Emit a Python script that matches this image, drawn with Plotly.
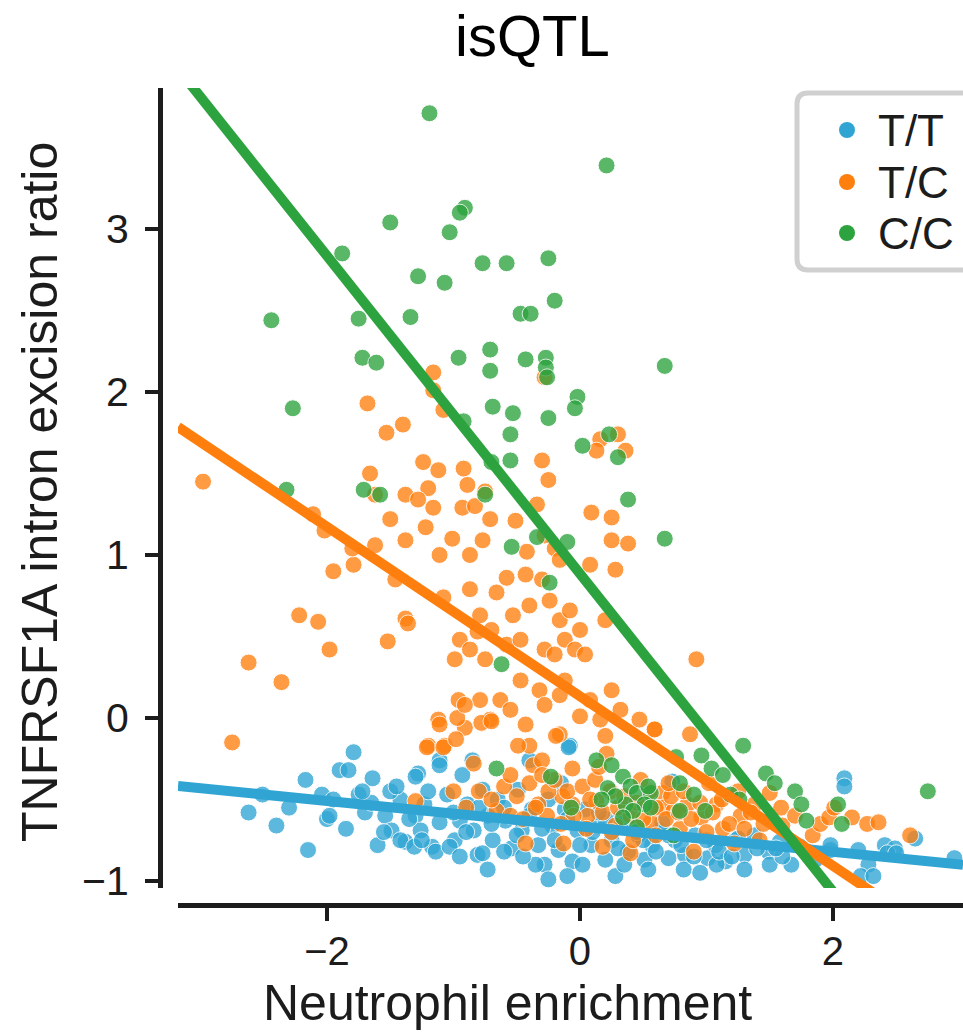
import numpy as np
import plotly.graph_objects as go

# ---- data -------------------------------------------------------------
genotypes = ["T/T", "T/C", "C/C"]
line_colors = ["#30a5d4", "#ff7f0e", "#2ca33e"]

# T/T carriers
tt_x = [-2.51, -2.15, -2.17, -2.04, -1.90, -1.83, -1.79, -1.75, -1.70, -1.64, -1.60, -1.54,
        -1.49, -1.42, -1.38, -1.30, -1.28, -1.26, -1.23, -1.17, -1.11, -1.11, -1.05, -0.99,
        -0.95, -0.93, -0.89, -0.84, -0.81, -0.77, -0.73, -0.69, -0.65, -0.59, -0.54, -0.49,
        -0.46, -0.40, -0.38, -0.33, -0.28, -0.25, -0.22, -0.17, -0.12, -0.08, -0.06, -0.02,
        0.04, 0.09, 0.14, 0.20, 0.25, 0.32, 0.38, 0.46, 0.51, 0.57, 0.63, 0.70, 0.75, 0.83,
        0.91, 1.01, 1.07, 1.15, 1.23, 1.30, 1.38, 1.49, 1.58, 1.74, 1.86, 1.98, 2.09, 2.20,
        2.28, 2.41, 2.49, 2.96, 0.73, -0.09, -0.85, -1.11, -1.30, 2.09, 1.98, 2.43, 2.50,
        2.22, 2.32, -0.25, -0.10, 0.28, -0.73, -1.42, -1.31, -1.14, -1.03, -0.77, -0.60,
        -0.35, 0.02, 0.54, 0.82, 1.08, 1.30, 1.50, 1.67, -2.30, -2.00, -1.95, -1.85, -1.65,
        -1.50, -1.35, -1.20, -1.00, -0.90, -0.80, -0.70, -0.60, -0.50, -0.40, -0.30, -0.20,
        -0.10, 0.00, 0.10, 0.20, 0.30, 0.40, 0.50, 0.60, 0.70, 0.80, 0.90, 1.00, 1.10, 1.20,
        1.40, 1.60, 1.80, -1.55, -1.25, -0.95, -0.45, 0.35, 0.95, -2.62, -2.40, -1.98, -1.72,
        -1.45, -0.15, 0.15, 0.45, 0.65, 1.25, 1.55, 2.65]
tt_y = [-0.47, -0.81, -0.38, -0.47, -0.32, -0.32, -0.21, -0.47, -0.58, -0.37, -0.78, -0.60,
        -0.69, -0.50, -0.76, -0.60, -0.34, -0.69, -0.53, -0.79, -0.26, -0.64, -0.47, -0.75,
        -0.63, -0.35, -0.53, -0.69, -0.84, -0.44, -0.60, -0.75, -0.50, -0.63, -0.80, -0.44,
        -0.69, -0.26, -0.56, -0.78, -0.90, -0.50, -0.66, -0.81, -0.56, -0.17, -0.88, -0.69,
        -0.56, -0.78, -0.66, -0.87, -0.75, -0.61, -0.82, -0.72, -0.87, -0.78, -0.69, -0.86,
        -0.75, -0.84, -0.72, -0.86, -0.78, -0.88, -0.75, -0.84, -0.72, -0.82, -0.76, -0.79,
        -0.87, -0.81, -0.37, -0.81, -0.90, -0.78, -0.80, -0.86, -0.39, -0.18, -0.26, -0.29,
        -0.36, -0.42, -0.78, -0.83, -0.83, -0.97, -0.97, -0.99, -0.97, -0.97, -0.93, -0.75,
        -0.79, -0.82, -0.79, -0.83, -0.82, -0.90, -0.90, -0.93, -0.93, -0.90, -0.93, -0.90,
        -0.90, -0.55, -0.62, -0.50, -0.68, -0.52, -0.45, -0.62, -0.45, -0.58, -0.70, -0.55,
        -0.65, -0.55, -0.72, -0.60, -0.68, -0.75, -0.62, -0.78, -0.70, -0.62, -0.80, -0.68,
        -0.75, -0.82, -0.72, -0.78, -0.85, -0.75, -0.82, -0.85, -0.80, -0.85, -0.82, -0.70,
        -0.75, -0.85, -0.85, -0.90, -0.95, -0.58, -0.66, -0.60, -0.45, -0.42, -0.40, -0.58,
        -0.70, -0.64, -0.74, -0.80, -0.74]

# T/C carriers
tc_x = [-2.98, -2.62, -2.36, -2.75, -2.22, -2.07, -1.98, -2.11, -2.02, -1.95, -1.79, -1.80,
        -1.68, -1.62, -1.52, -1.53, -1.40, -1.66, -1.62, -1.38, -1.50, -1.38, -1.46, -1.38,
        -1.36, -1.16, -1.16, -1.24, -1.20, -1.16, -1.28, -1.22, -1.12, -1.08, -1.11, -1.01,
        -1.08, -0.92, -0.93, -0.89, -0.83, -0.75, -0.71, -0.87, -0.77, -0.87, -0.95, -0.99,
        -0.87, -0.79, -0.81, -0.75, -0.70, -0.66, -0.58, -0.51, -0.58, -0.53, -0.47, -0.40,
        -0.43, -0.42, -0.34, -0.28, -0.30, -0.25, -0.28, -0.20, -0.16, -0.30, -0.24, -0.16,
        -0.08, -0.28, -0.20, -0.12, -0.04, 0.04, 0.00, 0.16, 0.13, 0.30, 0.36, 0.09, 0.25,
        0.25, 0.38, 0.28, 0.08, 0.20, 0.92, -0.12, -0.32, -0.47, -0.63, -0.79, -0.96, -1.12,
        -1.20, -1.07, -0.91, -0.71, -0.55, -0.43, -0.28, -0.16, 0.08, 0.25, 0.16, 0.32, 0.47,
        -0.40, -0.16, 0.87, 0.59,
        -1.30, -1.21, -1.11, -1.08, -0.98, -0.97, -0.91, -0.84, -0.78, -0.70, -0.66, -0.55,
        -0.49, -0.43, -0.37, -0.30, -0.33, -0.26, -0.19, -0.14, -0.13, -0.06, -0.06, 0.00,
        0.06, 0.13, 0.20, 0.21, 0.18, 0.28, 0.40, 0.42, 0.56, 0.59, 0.65, 0.65, 0.74, 0.79,
        0.85, 0.90, 0.96, 1.02, 1.08, 1.13, 1.22, 1.27, 1.38, 1.42, 1.50, 1.59, 1.84, 1.90,
        1.97, 2.01, 2.15, 2.27, 2.36, 2.61,
        -0.80, -0.70, -0.60, -0.50, -0.40, -0.35, -0.25, -0.20, -0.10, -0.05, 0.02, 0.08,
        0.12, 0.18, 0.24, 0.30, 0.35, 0.40, 0.45, 0.50, 0.55, 0.60, 0.68, 0.72, 0.78, 0.82,
        0.88, 0.95, 1.00, 1.05, 1.12, 1.18, 1.30, 1.35, 1.45, -0.90, -1.00, -0.55, -0.15,
        0.25, 0.60, -0.45, 0.05, 0.15, -0.30, 0.48, 0.70, 1.60, 1.70, 1.25]
tc_y = [1.45, 0.34, 0.22, -0.15, 0.63, 0.59, 0.42, 1.25, 1.15, 0.90, 0.94, 1.04,
        1.93, 1.06, 0.47, 1.75, 1.80, 1.50, 1.37, 1.37, 1.22, 1.09, 0.85, 0.61,
        0.58, 2.12, 2.01, 1.57, 1.41, 1.29, 1.34, 1.17, 1.52, 1.89, 1.00, 1.10,
        0.74, 1.53, 1.29, 1.43, 1.30, 1.39, 1.22, 1.00, 1.09, 0.79, 0.48, 0.36,
        0.42, 0.63, 0.53, 0.36, 0.54, 0.77, 0.86, 1.21, 0.45, 0.63, 0.48, 0.69,
        0.88, 1.02, 1.31, 2.09, 1.58, 1.46, 1.12, 1.04, 0.97, 0.85, 0.72, 0.60,
        0.66, 0.42, 0.39, 0.48, 0.42, 0.39, 0.54, 1.71, 1.64, 1.74, 1.64, 1.26, 1.23,
        1.09, 1.07, 0.91, 0.94, 0.60, 0.36, 0.23, 0.17, 0.23, 0.11, 0.11, 0.11, -0.01,
        -0.17, -0.17, -0.06, -0.01, 0.05, -0.04, 0.08, 0.14, 0.11, 0.17, -0.01, 0.05, -0.01,
        -0.17, -0.10, -0.10, -0.07,
        -0.51, -0.18, -0.04, -0.18, -0.13, 0.00, 0.08, -0.28, -0.03, -0.02, -0.57, -0.60,
        -0.17, -0.77, -0.29, -0.26, -0.53, -0.60, -0.11, -0.48, -0.77, -0.31, -0.53, 0.01,
        -0.60, -0.51, -0.11, -0.22, -0.79, -0.66, -0.83, -0.75, -0.64, -0.07, -0.46, -0.55,
        -0.57, -0.68, -0.53, -0.82, -0.61, -0.40, -0.53, -0.68, -0.77, -0.60, -0.53, -0.75,
        -0.46, -0.55, -0.72, -0.65, -0.61, -0.55, -0.61, -0.65, -0.64, -0.72,
        -0.45, -0.50, -0.42, -0.48, -0.40, -0.55, -0.45, -0.38, -0.45, -0.60, -0.42, -0.50,
        -0.38, -0.58, -0.45, -0.55, -0.48, -0.60, -0.52, -0.62, -0.45, -0.55, -0.62, -0.48,
        -0.58, -0.45, -0.62, -0.52, -0.70, -0.58, -0.50, -0.65, -0.68, -0.58, -0.65, -0.55,
        -0.45, -0.35, -0.65, -0.70, -0.72, -0.62, -0.68, -0.30, -0.35, -0.38, -0.40, -0.66,
        -0.60, -0.45]

# C/C carriers
cc_x = [-1.19, 0.21, -1.88, -0.91, -0.95, -1.03, -1.50, -1.28, -1.07, -0.77, -0.58, -0.25,
        -0.20, -2.44, -1.75, -1.34, -0.47, -0.39, -1.72, -1.61, -0.96, -0.71, -0.43, -0.27,
        -0.27, 0.67, -2.27, -0.71, -0.69, -0.53, -0.25, -0.02, -0.04, -0.26, -0.92, -0.55,
        0.02, 0.23, 0.30, -0.70, -0.55, -2.32, -1.71, -1.58, -0.75, 0.38, -0.54, -0.34,
        -0.10, 0.67, -0.24, -0.62,
        -0.66, -0.23, 0.13, 0.25, 0.34, 0.22, 0.40, 0.45, 0.56, 0.36, 0.51, -0.07, 0.45,
        0.74, 0.76, 0.96, 1.04, 1.13, 1.29, 0.79, 0.90, 0.79, 0.99, 1.19, 1.26, 1.47, 1.54,
        1.70, 1.75, 1.79, 2.04, 2.07, 2.75, 0.28, 0.42, 0.54, 0.17, 0.34, 0.56]
cc_y = [3.71, 3.39, 2.85, 3.13, 3.10, 2.98, 3.04, 2.71, 2.67, 2.79, 2.79, 2.82,
        2.56, 2.44, 2.45, 2.46, 2.48, 2.48, 2.21, 2.18, 2.21, 2.26, 2.20, 2.21,
        2.15, 2.16, 1.90, 2.13, 1.91, 1.87, 1.84, 1.97, 1.90, 2.09, 1.82, 1.74,
        1.67, 1.74, 1.60, 1.57, 1.58, 1.40, 1.40, 1.37, 1.37, 1.34, 1.05, 1.11,
        1.08, 1.10, 0.83, 0.33,
        -0.31, -0.36, -0.26, -0.29, -0.36, -0.43, -0.42, -0.46, -0.46, -0.53, -0.53, -0.55, -0.67,
        -0.72, -0.24, -0.23, -0.31, -0.35, -0.17, -0.40, -0.47, -0.57, -0.57, -0.47, -0.50, -0.34,
        -0.40, -0.45, -0.53, -0.63, -0.53, -0.65, -0.45, -0.48, -0.57, -0.42, -0.50, -0.61, -0.55]

# fitted regression lines (intercept, slope) per genotype
fit_intercept = [-0.665, 0.133, 0.885]
fit_slope = [-0.078, -0.520, -0.975]

x_ticks = [-2, 0, 2]
y_ticks = [-1, 0, 1, 2, 3]
x_range = [-3.178, 3.028]
y_range = [-1.043, 3.865]

# ---- geometry (pixels) ------------------------------------------------
W, H = 963, 1034
ML, MR, MT, MB = 150, 0, 88, 129
PW, PH = W - ML - MR, H - MT - MB


def px(x):
    return (x - ML) / PW


def py(y):
    return (H - MB - y) / PH


FONT = "Liberation Sans, Arial, Helvetica, sans-serif"
INK = "#1c1c1c"

fig = go.Figure()

groups = [(tt_x, tt_y), (tc_x, tc_y), (cc_x, cc_y)]
for name, (gx, gy), col in zip(genotypes, groups, line_colors):
    fig.add_trace(go.Scatter(
        x=gx, y=gy, mode="markers", name=name, showlegend=False,
        marker=dict(size=17, color=col, opacity=0.78,
                    line=dict(color="white", width=1)),
        hoverinfo="skip",
    ))

line_x = np.array(x_range)
for name, b, m, col in zip(genotypes, fit_intercept, fit_slope, line_colors):
    fig.add_trace(go.Scatter(
        x=line_x, y=b + m * line_x, mode="lines", showlegend=False,
        line=dict(color=col, width=10), hoverinfo="skip",
    ))

axis_common = dict(
    showline=True, linewidth=5, linecolor=INK, showgrid=False, zeroline=False,
    ticks="outside", ticklen=13, tickwidth=4, tickcolor=INK,
)
fig.update_layout(
    width=W, height=H,
    margin=dict(l=ML, r=MR, t=MT, b=MB, pad=0),
    paper_bgcolor="white", plot_bgcolor="white",
    showlegend=False,
    xaxis=dict(range=x_range, domain=[px(178), 1], anchor="free", position=0,
               tickvals=x_ticks, ticktext=["\u22122", "0", "2"],
               tickfont=dict(family=FONT, size=40, color=INK),
               ticklabelstandoff=-4, **axis_common),
    yaxis=dict(range=y_range, domain=[py(888), 1], anchor="free", position=px(160),
               tickvals=y_ticks, ticktext=["\u22121", "0", "1", "2", "3"],
               tickfont=dict(family=FONT, size=41, color=INK),
               ticklabelstandoff=8, **axis_common),
)

# titles
fig.add_annotation(text="isQTL", x=px(532), y=py(36), xref="paper", yref="paper",
                   showarrow=False, xanchor="center", yanchor="middle",
                   font=dict(family=FONT, size=58, color="black"))
fig.add_annotation(text="Neutrophil enrichment", x=px(507), y=py(1003), xref="paper",
                   yref="paper", showarrow=False, xanchor="center", yanchor="middle",
                   font=dict(family=FONT, size=50, color=INK))
fig.add_annotation(text="TNFRSF1A intron excision ratio", x=px(40), y=py(492),
                   xref="paper", yref="paper", showarrow=False, textangle=-90,
                   xanchor="center", yanchor="middle",
                   font=dict(family=FONT, size=50, color=INK))

# legend frame with rounded corners (runs past the right edge)
lx0, lx1, ly0, ly1, r = 797, 1000, 93, 270, 11
rx, ry = r / PW, r / PH
X0, X1, Y0, Y1 = px(lx0), px(lx1), py(ly0), py(ly1)
path = (f"M {X0 + rx},{Y0} L {X1 - rx},{Y0} Q {X1},{Y0} {X1},{Y0 - ry} "
        f"L {X1},{Y1 + ry} Q {X1},{Y1} {X1 - rx},{Y1} L {X0 + rx},{Y1} "
        f"Q {X0},{Y1} {X0},{Y1 + ry} L {X0},{Y0 - ry} Q {X0},{Y0} {X0 + rx},{Y0} Z")
fig.add_shape(type="path", path=path, xref="paper", yref="paper",
              line=dict(color="#d0d0d0", width=5), fillcolor="white", layer="above")

legend_y = [130, 182, 233]
for name, col, yy in zip(genotypes, line_colors, legend_y):
    rad = 8
    fig.add_shape(type="circle", xref="paper", yref="paper",
                  x0=px(847 - rad), x1=px(847 + rad), y0=py(yy + rad), y1=py(yy - rad),
                  fillcolor=col, line=dict(width=0), layer="above")
    fig.add_annotation(text=name, x=px(876), y=py(yy), xref="paper", yref="paper",
                       showarrow=False, xanchor="left", yanchor="middle",
                       font=dict(family=FONT, size=44, color=INK))

fig.write_html("out.html", config={"displayModeBar": False})
